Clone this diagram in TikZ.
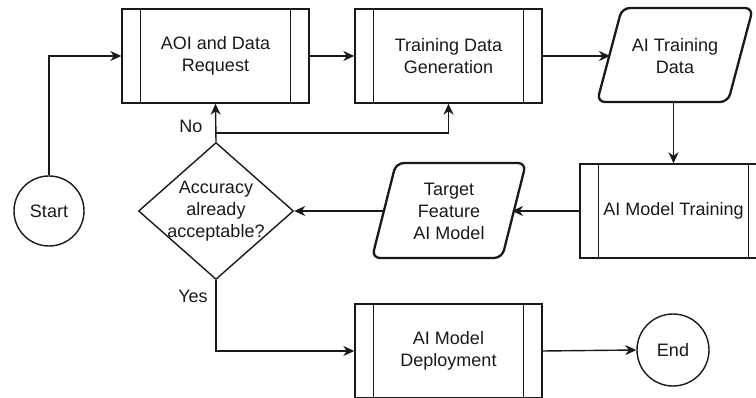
\documentclass[tikz,border=0pt]{standalone}
\usepackage{fontspec}
\setmainfont{Liberation Sans}
\usetikzlibrary{arrows.meta,shapes.geometric}
\begin{document}
\begin{tikzpicture}[x=1pt,y=-1pt,
  every node/.style={font=\fontsize{18}{22}\selectfont, align=center, text=black!90},
  ln/.style={line width=1.4pt, draw=black!90},
  arr/.style={ln, -{Stealth[length=11pt,width=10pt,inset=3.5pt]}},
  proc/.style={ln, rectangle, minimum width=187pt, minimum height=94pt, inner sep=0pt},
  para/.style={line width=2.3pt, draw=black!90, rounded corners=8pt, line join=round},
  term/.style={ln, circle, inner sep=0pt},
  lbl/.style={font=\fontsize{18}{22}\selectfont}
]
\useasboundingbox (0,0) rectangle (756,398);

% process boxes
\node[proc] (aoi) at (215.5,56) {AOI and Data\\Request};
\node[proc] (tdg) at (448.5,56) {Training Data\\Generation};
\node[proc] (amt) at (673.5,211) {AI Model Training};
\node[proc] (dep) at (448.5,351) {AI Model\\Deployment};
\foreach \n in {aoi,tdg,amt,dep}{
  \draw[ln] ([xshift=19pt]\n.north west) -- ([xshift=19pt]\n.south west);
  \draw[ln] ([xshift=-19pt]\n.north east) -- ([xshift=-19pt]\n.south east);
}

% terminals
\node[term, minimum size=70pt] (start) at (49,211) {Start};
\node[term, minimum size=72pt] (end) at (673,350) {End};

% decision
\node[ln, diamond, minimum width=155pt, minimum height=137pt, inner sep=0pt] (acc) at (216,211) {};
\node (acctxt) at (acc.center) {Accuracy\\already\\acceptable?};

% data parallelograms
\draw[para] (662,102) -- (597,102) -- (622,8) -- (753,8) -- (728,102) -- cycle;
\node (aitd) at (675,56) {AI Training\\Data};
\coordinate (aitdL) at (610,56);
\coordinate (aitdB) at (673.5,102);

\draw[para] (437,258) -- (372,258) -- (396,163) -- (526,163) -- (502,258) -- cycle;
\node (tfm) at (449,211) {Target\\Feature\\AI Model};
\coordinate (tfmL) at (384,211);
\coordinate (tfmR) at (512,211);

% connectors
\draw[arr] (start.north) |- (aoi.west);
\draw[arr] (aoi.east) -- (tdg.west);
\draw[arr] (tdg.east) -- (aitdL);
\draw[arr] (aitdB) -- (amt.north);
\draw[arr] (amt.west) -- (tfmR);
\draw[arr] (tfmL) -- (acc.east);
\draw[arr] (acc.north) -- (aoi.south);
\coordinate (nob) at (216,133);
\draw[arr] (nob) -| (tdg.south);
\draw[arr] (acc.south) |- (dep.west);
\draw[arr] (dep.east) -- (end.west);

% labels
\node[lbl] (no) at (191,126) {No};
\node[lbl] (yes) at (193,296) {Yes};
\end{tikzpicture}
\end{document}
